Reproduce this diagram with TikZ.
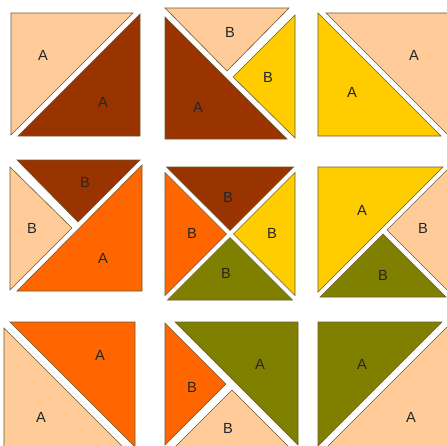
\documentclass[tikz,border=0pt]{standalone}
\usepackage{fontspec}
\setmainfont{Liberation Sans}
\definecolor{peach}{HTML}{FFCC99}
\definecolor{dbrown}{HTML}{993300}
\definecolor{gold}{HTML}{FFCC00}
\definecolor{orng}{HTML}{FF6600}
\definecolor{olv}{HTML}{808000}
\definecolor{edgec}{HTML}{6E5A32}
\begin{document}
\begin{tikzpicture}[x=0.75pt,y=-0.75pt,
  piece/.style={draw=edgec, line width=0.45pt, line join=miter},
  lbl/.style={font=\fontsize{11}{13}\selectfont, text=black!85, inner sep=0pt}]
\useasboundingbox (0,0) rectangle (447,446);
\fill[white] (0,0) rectangle (447,446);
\begin{scope}
\clip (0,0) rectangle (447,446);
% square 1
\filldraw[piece, fill=peach]  (11,13) -- (133,13) -- (11,135) -- cycle;
\filldraw[piece, fill=dbrown] (140,14) -- (140,136) -- (18,136) -- cycle;
% square 2
\filldraw[piece, fill=dbrown] (165,17) -- (165,139) -- (287,139) -- cycle;
\filldraw[piece, fill=peach]  (165,8) -- (289,8) -- (227,71) -- cycle;
\filldraw[piece, fill=gold]   (295,15) -- (295,138) -- (233,77) -- cycle;
% square 3
\filldraw[piece, fill=gold]   (318,13) -- (318,136) -- (441,136) -- cycle;
\filldraw[piece, fill=peach]  (326,13) -- (452,13) -- (452,136) -- (449,136) -- cycle;
% square 4
\filldraw[piece, fill=dbrown] (17,160) -- (140,160) -- (78,222) -- cycle;
\filldraw[piece, fill=peach]  (10,167) -- (10,290) -- (72,228) -- cycle;
\filldraw[piece, fill=orng]   (142,165) -- (142,291) -- (17,291) -- cycle;
% square 5
\filldraw[piece, fill=dbrown] (166.5,167) -- (293.5,167) -- (230,230.5) -- cycle;
\filldraw[piece, fill=orng]   (165,172.5) -- (165,295.5) -- (226.5,234) -- cycle;
\filldraw[piece, fill=gold]   (295,172.5) -- (295,295.5) -- (233.5,234) -- cycle;
\filldraw[piece, fill=olv]    (167.5,300) -- (292.5,300) -- (230,237.5) -- cycle;
% square 6
\filldraw[piece, fill=gold]   (318,167) -- (443,167) -- (318,292) -- cycle;
\filldraw[piece, fill=peach]  (450,167) -- (450,293) -- (387,230) -- cycle;
\filldraw[piece, fill=olv]    (320,297) -- (446,297) -- (383,234) -- cycle;
% square 7
\filldraw[piece, fill=orng]   (10,322) -- (135,322) -- (135,447) -- cycle;
\filldraw[piece, fill=peach]  (4,328) -- (4,453) -- (129,453) -- cycle;
% square 8
\filldraw[piece, fill=olv]    (175,322) -- (298,322) -- (298,445) -- cycle;
\filldraw[piece, fill=orng]   (165,323) -- (226,384) -- (165,445) -- cycle;
\filldraw[piece, fill=peach]  (232,390) -- (295,453) -- (169,453) -- cycle;
% square 9
\filldraw[piece, fill=olv]    (318,322) -- (442,322) -- (318,446) -- cycle;
\filldraw[piece, fill=peach]  (452,322) -- (452,453) -- (321,453) -- cycle;
\end{scope}
% labels
\node[lbl] (s1a) at (43,55) {A};
\node[lbl] (s1b) at (103,102) {A};
\node[lbl] (s2a) at (230,32) {B};
\node[lbl] (s2b) at (268,77) {B};
\node[lbl] (s2c) at (198,107) {A};
\node[lbl] (s3a) at (414,55) {A};
\node[lbl] (s3b) at (352,92) {A};
\node[lbl] (s4a) at (85,182) {B};
\node[lbl] (s4b) at (32,228) {B};
\node[lbl] (s4c) at (103,258) {A};
\node[lbl] (s5a) at (228,197) {B};
\node[lbl] (s5b) at (192,233) {B};
\node[lbl] (s5c) at (272,233) {B};
\node[lbl] (s5d) at (226,273) {B};
\node[lbl] (s6a) at (362,210) {A};
\node[lbl] (s6b) at (423,228) {B};
\node[lbl] (s6c) at (383,275) {B};
\node[lbl] (s7a) at (100,355) {A};
\node[lbl] (s7b) at (41,417) {A};
\node[lbl] (s8a) at (260,364) {A};
\node[lbl] (s8b) at (192,387) {B};
\node[lbl] (s8c) at (228,428) {B};
\node[lbl] (s9a) at (362,364) {A};
\node[lbl] (s9b) at (411,417) {A};
\end{tikzpicture}
\end{document}
